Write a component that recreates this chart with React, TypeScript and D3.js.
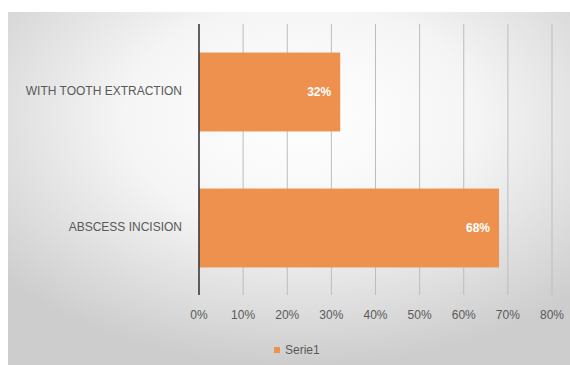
import React from "react";
import * as d3 from "d3";

const categories = ["WITH TOOTH EXTRACTION", "ABSCESS INCISION"];
const values = [0.32, 0.68];
const tickValues = [0, 0.1, 0.2, 0.3, 0.4, 0.5, 0.6, 0.7, 0.8];
const seriesName = "Serie1";

const W = 570;
const H = 365;
const FONT = "'Liberation Sans', Arial, sans-serif";
const ORANGE = "#EE914F";
const TEXT = "#595959";

export default function App() {
  const x = d3.scaleLinear().domain([0, 0.8]).range([199, 552]);
  const y = d3
    .scaleBand<string>()
    .domain(categories)
    .range([24, 296])
    .paddingInner(0.42)
    .paddingOuter(0.21);
  const pct = d3.format(".0%");
  const plotTop = 24;
  const plotBottom = 295;

  return (
    <div style={{ position: "fixed", left: 0, top: 0 }}>
      <svg width={W} height={H} style={{ display: "block" }}>
        <defs>
          <radialGradient id="panelBg" cx="52%" cy="30%" r="70%" gradientUnits="objectBoundingBox">
            <stop offset="0%" stopColor="#ffffff" />
            <stop offset="45%" stopColor="#f5f5f5" />
            <stop offset="100%" stopColor="#cdcdcd" />
          </radialGradient>
        </defs>
        <rect x={0} y={0} width={W} height={H} fill="#ffffff" />
        <rect x={8} y={12} width={W - 8} height={H - 12} fill="url(#panelBg)" />

        {/* vertical gridlines */}
        {tickValues.slice(1).map((t) => (
          <line
            key={`g${t}`}
            x1={x(t)}
            x2={x(t)}
            y1={plotTop}
            y2={plotBottom}
            stroke="#bdbdbd"
            strokeWidth={1}
          />
        ))}

        {/* bars */}
        {categories.map((c, i) => (
          <rect
            key={c}
            x={x(0)}
            y={y(c)}
            width={x(values[i]) - x(0)}
            height={y.bandwidth()}
            fill={ORANGE}
          />
        ))}

        {/* data labels */}
        {categories.map((c, i) => (
          <text
            key={`l${c}`}
            x={x(values[i]) - 9}
            y={(y(c) as number) + y.bandwidth() / 2}
            dy="0.35em"
            textAnchor="end"
            fill="#ffffff"
            fontFamily={FONT}
            fontWeight="bold"
            fontSize={12}
          >
            {pct(values[i])}
          </text>
        ))}

        {/* category axis line */}
        <line x1={x(0)} x2={x(0)} y1={plotTop} y2={plotBottom} stroke="#3a3a3a" strokeWidth={1.6} />

        {/* category labels */}
        {categories.map((c) => (
          <text
            key={`c${c}`}
            x={182}
            y={(y(c) as number) + y.bandwidth() / 2 - 1}
            dy="0.35em"
            textAnchor="end"
            fill={TEXT}
            fontFamily={FONT}
            fontSize={12}
          >
            {c}
          </text>
        ))}

        {/* value tick labels */}
        {tickValues.map((t) => (
          <text
            key={`t${t}`}
            x={x(t)}
            y={315}
            dy="0.35em"
            textAnchor="middle"
            fill={TEXT}
            fontFamily={FONT}
            fontSize={12}
          >
            {pct(t)}
          </text>
        ))}

        {/* legend */}
        <rect x={274} y={347} width={6} height={6} fill={ORANGE} />
        <text x={285} y={350} dy="0.35em" fill={TEXT} fontFamily={FONT} fontSize={12}>
          {seriesName}
        </text>
      </svg>
    </div>
  );
}
